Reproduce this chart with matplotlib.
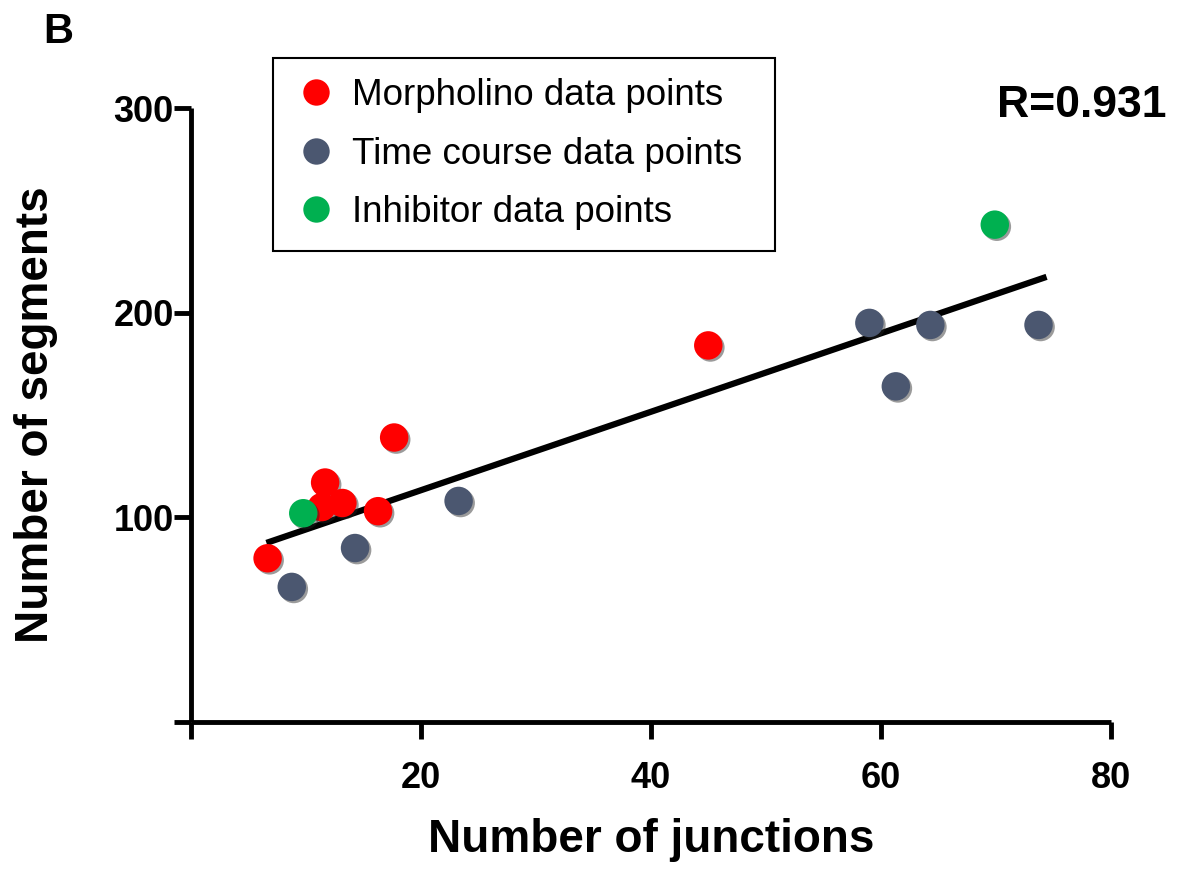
import numpy as np
import matplotlib
matplotlib.use("Agg")
import matplotlib.pyplot as plt
import matplotlib.patheffects as pe

plt.rcParams['font.family'] = ['Liberation Sans', 'DejaVu Sans']

# data
morph_x = [6.7, 11.7, 11.4, 13.2, 16.3, 17.7, 45.0]
morph_y = [80, 117, 105, 107, 103, 139, 184]

time_x = [8.8, 14.3, 23.3, 59.0, 64.3, 61.3, 73.7]
time_y = [66, 85, 108, 195, 194, 164, 194]

inhib_x = [9.8, 69.9]
inhib_y = [102, 243]

fit_x = [6.6, 74.4]
fit_y = [87.5, 217.5]

r_text = "R=0.931"

x_ticks = [0, 20, 40, 60, 80]
x_ticklabels = ["", "20", "40", "60", "80"]
y_ticks = [0, 100, 200, 300]
y_ticklabels = ["", "100", "200", "300"]

red = "#ff0000"
slate = "#4b5770"
green = "#00b050"

fig = plt.figure(figsize=(11.82, 8.73), dpi=100)
ax = fig.add_axes([190.5/1182, 1 - 722/873, (1111 - 190.5)/1182, (722 - 108)/873])

shadow = [pe.SimplePatchShadow(offset=(1.5, -1.5), shadow_rgbFace="#222222", alpha=0.45), pe.Normal()]

ax.plot(fit_x, fit_y, color="black", linewidth=4.5, solid_capstyle="butt", zorder=3)

msize = 420
for xs, ys, c in [(time_x, time_y, slate), (morph_x, morph_y, red), (inhib_x, inhib_y, green)]:
    sc = ax.scatter(xs, ys, s=msize, color=c, edgecolors="none", zorder=4)
    sc.set_path_effects(shadow)

# legend built from proxies so the order matches the picture
handles = [plt.Line2D([], [], marker="o", linestyle="none", markersize=19, color=c, markeredgewidth=0)
           for c in (red, slate, green)]
labels = ["Morpholino data points", "Time course data points", "Inhibitor data points"]
leg = ax.legend(handles, labels, loc="upper left", mode="expand",
                bbox_to_anchor=(273/1182, 1 - 252/873, 502/1182, 194/873),
                bbox_transform=fig.transFigure,
                borderaxespad=0, fontsize=26.5, frameon=True, fancybox=False,
                framealpha=1, edgecolor="black", borderpad=0.55, handlelength=1.25,
                handletextpad=0.35, labelspacing=0.64)
leg.get_frame().set_linewidth(1.5)

ax.set_xlim(0, 80)
ax.set_ylim(0, 300)
ax.set_xticks(x_ticks)
ax.set_xticklabels(x_ticklabels)
ax.set_yticks(y_ticks)
ax.set_yticklabels(y_ticklabels)

for side in ("top", "right"):
    ax.spines[side].set_visible(False)
for side in ("left", "bottom"):
    ax.spines[side].set_linewidth(3.5)
    ax.spines[side].set_capstyle("butt")

ax.tick_params(axis="both", direction="out", length=12, width=3.5, labelsize=26)
ax.tick_params(axis="x", pad=16)
ax.tick_params(axis="y", pad=0)
for t in ax.get_xticklabels() + ax.get_yticklabels():
    t.set_fontweight("bold")

ax.set_xlabel("Number of junctions", fontsize=33, fontweight="bold", labelpad=16)
ax.set_ylabel("Number of segments", fontsize=33, fontweight="bold", labelpad=40)

fig.text(1167/1182, 1 - 117/873, r_text, ha="right", va="baseline", fontsize=32, fontweight="bold")
fig.text(43/1182, 1 - 43/873, "B", ha="left", va="baseline", fontsize=30, fontweight="bold")

fig.savefig("out.png", dpi=100)
